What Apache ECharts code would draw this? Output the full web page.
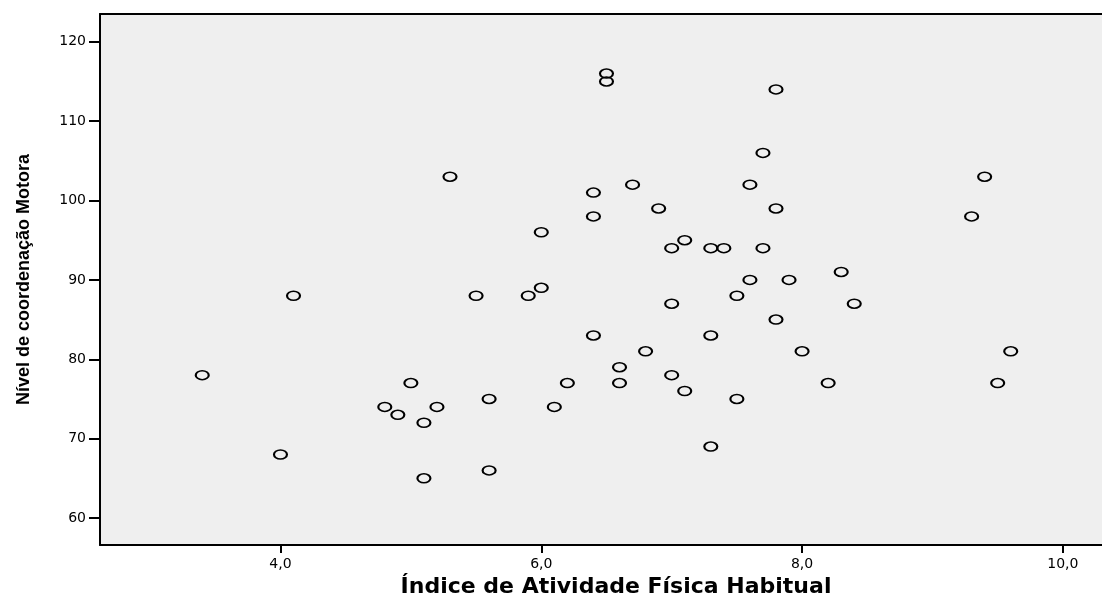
<html>
<head>
    <meta charset="utf-8">
    <title>Dispersão</title>
    <script src="https://cdn.jsdelivr.net/npm/echarts@6/dist/echarts.min.js"></script>
</head>
<body style="margin:0">
    <div id="main" style="width: 1102px;height:598px;"></div>
    <script type="text/javascript">
        // Índice de Atividade Física Habitual
        var indiceAFH = [3.4, 4.0, 4.1, 4.8, 4.9, 5.0, 5.1, 5.1, 5.2, 5.3, 5.5, 5.6, 5.6, 5.9,
            6.0, 6.0, 6.1, 6.2, 6.4, 6.4, 6.4, 6.5, 6.5, 6.6, 6.6, 6.7, 6.8, 6.9, 7.0, 7.0, 7.0,
            7.1, 7.1, 7.3, 7.3, 7.3, 7.4, 7.5, 7.5, 7.6, 7.6, 7.7, 7.7, 7.8, 7.8, 7.8, 7.9, 8.0,
            8.2, 8.3, 8.4, 9.3, 9.4, 9.5, 9.6];
        // Nível de coordenação Motora
        var nivelCM = [78, 68, 88, 74, 73, 77, 72, 65, 74, 103, 88, 75, 66, 88,
            96, 89, 74, 77, 101, 98, 83, 116, 115, 79, 77, 102, 81, 99, 94, 87, 78,
            95, 76, 94, 83, 69, 94, 88, 75, 102, 90, 106, 94, 114, 99, 85, 90, 81,
            77, 91, 87, 98, 103, 77, 81];
        var xTicks = [4, 6, 8, 10];
        var yTicks = [60, 70, 80, 90, 100, 110, 120];

        var pontos = indiceAFH.map(function (v, i) { return [v, nivelCM[i]]; });

        var myChart = echarts.init(document.getElementById('main'));
        var option = {
            animation: false,
            grid: {
                left: 100, top: 14, right: 0, bottom: 53,
                outerBoundsMode: 'none',
                containLabel: false,
                show: true,
                backgroundColor: '#efefef',
                borderWidth: 0
            },
            xAxis: [{
                type: 'value',
                min: 2.616, max: 10.3,
                name: 'Índice de Atividade Física Habitual',
                nameLocation: 'middle',
                nameGap: 29,
                nameTextStyle: { fontFamily: 'DejaVu Sans', fontWeight: 'bold', fontSize: 22, color: '#000', padding: [0, 0, 0, 30] },
                splitLine: { show: false },
                axisLine: { lineStyle: { color: '#000', width: 2 } },
                axisTick: { customValues: xTicks, length: 8, lineStyle: { color: '#000', width: 2 } },
                axisLabel: {
                    customValues: xTicks,
                    margin: 12,
                    fontFamily: 'DejaVu Sans', fontSize: 14, color: '#000',
                    formatter: function (v) { return v.toFixed(1).replace('.', ','); }
                }
            }, {
                type: 'value',
                position: 'top',
                min: 2.616, max: 10.3,
                splitLine: { show: false },
                axisLine: { lineStyle: { color: '#000', width: 2 } },
                axisTick: { show: false },
                axisLabel: { show: false }
            }],
            yAxis: {
                type: 'value',
                min: 56.6, max: 123.5,
                name: 'Nível de coordenação Motora',
                nameLocation: 'middle',
                nameGap: 67,
                nameTextStyle: { fontFamily: 'Liberation Sans', fontWeight: 'bold', fontSize: 18, color: '#000' },
                splitLine: { show: false },
                axisLine: { show: true, lineStyle: { color: '#000', width: 2 } },
                axisTick: { show: true, customValues: yTicks, length: 11, lineStyle: { color: '#000', width: 2 } },
                axisLabel: {
                    customValues: yTicks,
                    margin: 14,
                    fontFamily: 'DejaVu Sans', fontSize: 14, color: '#000'
                }
            },
            series: [{
                type: 'scatter',
                xAxisIndex: 0,
                data: pontos,
                symbol: 'circle',
                symbolSize: [13, 9],
                itemStyle: { color: 'rgba(0,0,0,0)', borderColor: '#000', borderWidth: 1.8, opacity: 1 }
            }]
        };
        myChart.setOption(option);
    </script>
</body>
</html>
